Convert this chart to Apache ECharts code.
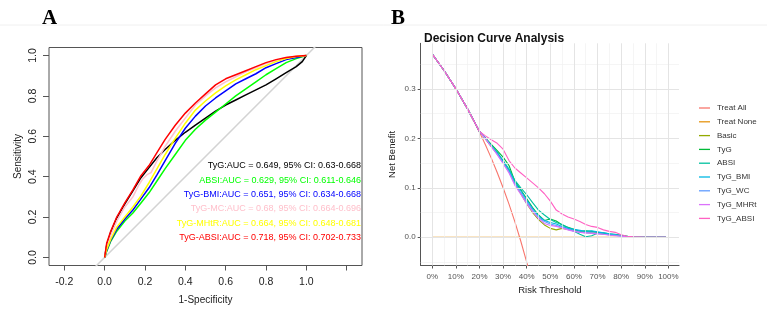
<!DOCTYPE html>
<html><head><meta charset="utf-8">
<script src="https://cdn.jsdelivr.net/npm/echarts@6/dist/echarts.min.js"></script>
<style>html,body{margin:0;padding:0;background:#fff}#c{width:767px;height:313px}</style>
</head><body><div id="c"></div>
<script>
// ---------- Panel A : ROC curves ----------
const rocNames  = ['TyG','ABSI','TyG-BMI','TyG-MC','TyG-MHtR','TyG-ABSI'];
const rocAUC    = ['0.649','0.629','0.651','0.68','0.664','0.718'];
const rocCI     = ['0.63-0.668','0.611-0.646','0.634-0.668','0.664-0.696','0.648-0.681','0.702-0.733'];
const rocColors = ['#000000','#00ff00','#0000ff','#ffc0cb','#ffff00','#ff0000'];
const rocXTicks = [-0.2,0,0.2,0.4,0.6,0.8,1.0,1.2];
const rocXLabels = [-0.2,0,0.2,0.4,0.6,0.8,1.0];
const rocYTicks = [0,0.2,0.4,0.6,0.8,1.0];
// [1-specificity, sensitivity]
const rocTyG = [[0,0],[0.01,0.06],[0.03,0.125],[0.06,0.195],[0.1,0.265],[0.14,0.33],[0.18,0.395],[0.22,0.445],[0.26,0.495],[0.3,0.535],[0.35,0.58],[0.4,0.62],[0.45,0.655],[0.5,0.69],[0.55,0.725],[0.6,0.755],[0.65,0.78],[0.7,0.805],[0.75,0.83],[0.8,0.855],[0.85,0.885],[0.9,0.915],[0.95,0.945],[0.98,0.97],[1,1]];
const rocABSI = [[0,0],[0.01,0.03],[0.03,0.08],[0.06,0.13],[0.1,0.18],[0.14,0.22],[0.18,0.27],[0.22,0.32],[0.26,0.38],[0.3,0.44],[0.35,0.51],[0.4,0.58],[0.45,0.635],[0.5,0.68],[0.55,0.72],[0.6,0.76],[0.65,0.8],[0.7,0.835],[0.75,0.87],[0.8,0.905],[0.85,0.935],[0.9,0.965],[0.95,0.985],[1,1]];
const rocTyGBMI = [[0,0],[0.01,0.035],[0.03,0.085],[0.06,0.14],[0.1,0.19],[0.14,0.235],[0.18,0.29],[0.22,0.345],[0.26,0.41],[0.3,0.48],[0.35,0.565],[0.4,0.64],[0.45,0.7],[0.5,0.75],[0.55,0.79],[0.6,0.825],[0.65,0.86],[0.7,0.885],[0.75,0.91],[0.8,0.94],[0.85,0.96],[0.9,0.98],[0.95,0.99],[1,1]];
const rocTyGMC = [[0,0],[0.01,0.05],[0.03,0.11],[0.06,0.18],[0.1,0.25],[0.14,0.3],[0.17,0.36],[0.19,0.39],[0.21,0.41],[0.23,0.42],[0.26,0.48],[0.3,0.55],[0.35,0.625],[0.4,0.69],[0.45,0.755],[0.5,0.8],[0.55,0.84],[0.6,0.87],[0.65,0.895],[0.7,0.92],[0.75,0.94],[0.8,0.96],[0.85,0.975],[0.9,0.99],[0.95,0.997],[1,1]];
const rocTyGMHtR = [[0,0],[0.01,0.04],[0.03,0.09],[0.06,0.15],[0.1,0.2],[0.14,0.25],[0.18,0.305],[0.22,0.37],[0.26,0.44],[0.3,0.51],[0.35,0.59],[0.4,0.665],[0.45,0.73],[0.5,0.775],[0.55,0.815],[0.6,0.85],[0.65,0.88],[0.7,0.905],[0.75,0.93],[0.8,0.95],[0.85,0.97],[0.9,0.985],[0.95,0.995],[1,1]];
const rocTyGABSI = [[0,0],[0.01,0.07],[0.03,0.13],[0.06,0.2],[0.1,0.27],[0.14,0.335],[0.18,0.405],[0.22,0.455],[0.26,0.52],[0.3,0.585],[0.35,0.655],[0.4,0.715],[0.45,0.765],[0.5,0.81],[0.55,0.855],[0.6,0.885],[0.65,0.905],[0.7,0.925],[0.75,0.945],[0.8,0.965],[0.85,0.98],[0.9,0.99],[0.95,0.997],[1,1]];
const rocData = [rocTyG, rocABSI, rocTyGBMI, rocTyGMC, rocTyGMHtR, rocTyGABSI];
const rocDiag = [[-0.1,-0.1],[1.1,1.1]];

// ---------- Panel B : Decision curves ----------
const dcaNames  = ['Treat All','Treat None','Basic','TyG','ABSI','TyG_BMI','TyG_WC','TyG_MHRt','TyG_ABSI'];
const dcaColors = ['#F8766D','#E69512','#93AA00','#00BA38','#00C19F','#00B9E3','#619CFF','#DB72FB','#FF61C3'];
const dcaXTicks = [0,0.1,0.2,0.3,0.4,0.5,0.6,0.7,0.8,0.9,1.0];
const dcaYTicks = [0,0.1,0.2,0.3];
const dcaXMinor = [0.05,0.15,0.25,0.35,0.45,0.55,0.65,0.75,0.85,0.95];
const dcaYMinor = [-0.05,0.05,0.15,0.25,0.35];
const treatAllX = [0,0.05,0.1,0.15,0.2,0.225,0.25,0.275,0.3,0.325,0.35,0.375,0.4,0.42];
const treatAllY = [0.37,0.337,0.30,0.259,0.2125,0.187,0.16,0.131,0.10,0.067,0.031,-0.008,-0.05,-0.086];
const treatNoneX = [0,0.99];
const treatNoneY = [0,0];
const dcaX = [0,0.05,0.1,0.15,0.2,0.225,0.25,0.275,0.3,0.325,0.35,0.375,0.4,0.425,0.45,0.475,0.5,0.525,0.55,0.575,0.6,0.625,0.65,0.675,0.7,0.725,0.75,0.775,0.8,0.825,0.85,0.9,0.95,0.99];
const dcaHead = [0.37,0.337,0.30,0.259,0.214];
const dcaTail = [0,0,0];
const nbBasic   = [0.199,0.183,0.169,0.152,0.135,0.108,0.088,0.068,0.05,0.036,0.025,0.018,0.015,0.018,0.016,0.013,0.011,0.01,0.009,0.008,0.007,0.005,0.004,0.003,0.001,0];
const nbTyG     = [0.201,0.188,0.175,0.162,0.145,0.113,0.096,0.078,0.06,0.045,0.034,0.037,0.033,0.025,0.02,0.016,0.012,0.013,0.012,0.01,0.008,0.006,0.005,0.004,0.002,0];
const nbABSI    = [0.2,0.186,0.172,0.155,0.138,0.115,0.1,0.086,0.07,0.055,0.045,0.036,0.03,0.026,0.02,0.012,0.006,0.001,0.003,0.008,0.009,0.007,0.006,0.004,0.002,0];
const nbTyGBMI  = [0.2,0.185,0.17,0.154,0.136,0.11,0.094,0.075,0.058,0.043,0.034,0.03,0.027,0.022,0.018,0.016,0.014,0.012,0.013,0.011,0.009,0.007,0.005,0.003,0.001,0];
const nbTyGWC   = [0.2,0.184,0.168,0.15,0.132,0.107,0.09,0.072,0.055,0.04,0.032,0.027,0.024,0.02,0.016,0.013,0.011,0.009,0.009,0.008,0.006,0.005,0.004,0.002,0.001,0];
const nbTyGMHRt = [0.199,0.183,0.167,0.149,0.13,0.105,0.087,0.068,0.052,0.038,0.028,0.024,0.022,0.019,0.015,0.012,0.01,0.009,0.008,0.007,0.006,0.004,0.003,0.002,0.001,0];
const nbTyGABSI = [0.205,0.197,0.19,0.178,0.155,0.14,0.13,0.12,0.11,0.1,0.088,0.073,0.055,0.047,0.041,0.037,0.032,0.026,0.022,0.02,0.015,0.012,0.01,0.005,0.002,0.001];
const dcaModels = [nbBasic, nbTyG, nbABSI, nbTyGBMI, nbTyGWC, nbTyGMHRt, nbTyGABSI];

const FONT = 'Liberation Sans, Arial, sans-serif';
const chart = echarts.init(document.getElementById('c'), null, {renderer:'canvas'});
const zip = (xs, ys) => xs.map((x,i)=>[x, ys[i]]);

const series = [];
// Panel A
series.push({type:'line', xAxisIndex:0, yAxisIndex:0, data:rocDiag, symbol:'none', silent:true,
  lineStyle:{color:'#d3d3d3', width:1.5}, clip:true, z:1});
rocData.forEach((d,i)=>series.push({type:'line', name:'A_'+rocNames[i], xAxisIndex:0, yAxisIndex:0, data:d,
  symbol:'none', lineStyle:{color:rocColors[i], width:1.5}, clip:true, z:2}));
// Panel B grid lines (ggplot style)
const mk = [];
dcaYMinor.forEach(v=>mk.push({yAxis:v, lineStyle:{color:'#f1f1f1', width:0.7, type:'solid'}}));
dcaXMinor.forEach(v=>mk.push({xAxis:v, lineStyle:{color:'#f1f1f1', width:0.7, type:'solid'}}));
dcaYTicks.forEach(v=>mk.push({yAxis:v, lineStyle:{color:'#e4e4e4', width:1, type:'solid'}}));
dcaXTicks.forEach(v=>mk.push({xAxis:v, lineStyle:{color:'#e4e4e4', width:1, type:'solid'}}));
series.push({type:'line', xAxisIndex:1, yAxisIndex:1, data:[[0,0]], symbol:'none', silent:true,
  lineStyle:{opacity:0}, z:0,
  markLine:{silent:true, symbol:['none','none'], label:{show:false}, animation:false, data:mk}});
series.push({type:'line', name:'Treat All', xAxisIndex:1, yAxisIndex:1, data:zip(treatAllX,treatAllY), symbol:'none',
  lineStyle:{color:dcaColors[0], width:1.1}, itemStyle:{color:dcaColors[0]}, clip:true, z:3});
series.push({type:'line', name:'Treat None', xAxisIndex:1, yAxisIndex:1, data:zip(treatNoneX,treatNoneY), symbol:'none',
  lineStyle:{color:dcaColors[1], width:1.2}, itemStyle:{color:dcaColors[1]}, clip:true, z:3});
dcaModels.forEach((m,i)=>{
  const ys = dcaHead.concat(m, dcaTail);
  series.push({type:'line', name:dcaNames[i+2], xAxisIndex:1, yAxisIndex:1, data:zip(dcaX, ys), symbol:'none',
    lineStyle:{color:dcaColors[i+2], width:1.1}, itemStyle:{color:dcaColors[i+2]}, clip:true, z:3});
});

const graphics = [
  {type:'line', shape:{x1:0,y1:25,x2:767,y2:25}, style:{stroke:'#f0f0f0', lineWidth:1}, silent:true}
];
rocNames.forEach((n,i)=>graphics.push({type:'text', x:361, y:165.7 + i*14.33,
  style:{text:n+':AUC = '+rocAUC[i]+', 95% CI: '+rocCI[i], fill:rocColors[i], font:'9px '+FONT,
  textAlign:'right', textVerticalAlign:'middle'}}));

chart.setOption({
  animation:false,
  backgroundColor:'#fff',
  title:[
    {text:'A', left:37, top:3, textStyle:{fontFamily:'Liberation Serif', fontWeight:'bold', fontSize:21, color:'#000'}},
    {text:'B', left:386, top:3, textStyle:{fontFamily:'Liberation Serif', fontWeight:'bold', fontSize:21, color:'#000'}},
    {text:'Decision Curve Analysis', left:419, top:28, textStyle:{fontFamily:FONT, fontWeight:'bold', fontSize:12, color:'#111'}}
  ],
  grid:[
    {left:49, top:47.5, width:313, height:218, show:true, borderColor:'#555', borderWidth:1, backgroundColor:'transparent'},
    {left:420.7, top:43.3, width:258.3, height:222.2}
  ],
  xAxis:[
    {gridIndex:0, type:'value', min:-0.276, max:1.276, splitLine:{show:false}, axisLine:{show:false, onZero:false},
     axisTick:{show:true, customValues:rocXTicks, length:5, lineStyle:{color:'#555'}},
     axisLabel:{customValues:rocXLabels, formatter:v=>v.toFixed(1), fontFamily:FONT, fontSize:10.5, color:'#222', margin:11},
     name:'1-Specificity', nameLocation:'middle', nameGap:30, nameTextStyle:{fontFamily:FONT, fontSize:10, color:'#222'}},
    {gridIndex:1, type:'value', min:-0.049, max:1.045, splitLine:{show:false},
     axisLine:{show:true, onZero:false, lineStyle:{color:'#555', width:1}},
     axisTick:{show:true, customValues:dcaXTicks, length:3, lineStyle:{color:'#555'}},
     axisLabel:{customValues:dcaXTicks, formatter:v=>Math.round(v*100)+'%', fontFamily:FONT, fontSize:8, color:'#555', margin:7},
     name:'Risk Threshold', nameLocation:'middle', nameGap:18, nameTextStyle:{fontFamily:FONT, fontSize:9.5, color:'#222'}}
  ],
  yAxis:[
    {gridIndex:0, type:'value', min:-0.04, max:1.04, splitLine:{show:false}, axisLine:{show:false, onZero:false},
     axisTick:{show:true, customValues:rocYTicks, length:6, lineStyle:{color:'#555'}},
     axisLabel:{customValues:rocYTicks, rotate:90, formatter:v=>v.toFixed(1), fontFamily:FONT, fontSize:10.5, color:'#222', margin:10},
     name:'Sensitivity', nameLocation:'middle', nameGap:26, nameTextStyle:{fontFamily:FONT, fontSize:10, color:'#222'}},
    {gridIndex:1, type:'value', min:-0.057, max:0.392, splitLine:{show:false},
     axisLine:{show:true, onZero:false, lineStyle:{color:'#555', width:1}},
     axisTick:{show:true, customValues:dcaYTicks, length:3, lineStyle:{color:'#555'}},
     axisLabel:{customValues:dcaYTicks, formatter:v=>v.toFixed(1), fontFamily:FONT, fontSize:8, color:'#555', margin:5},
     name:'Net Benefit', nameLocation:'middle', nameGap:23, nameTextStyle:{fontFamily:FONT, fontSize:9.5, color:'#222'}}
  ],
  legend:[{
    data:dcaNames, orient:'vertical', left:694, top:98, itemWidth:11, itemHeight:1.3, itemGap:3.8, icon:'rect',
    textStyle:{fontFamily:FONT, fontSize:8, color:'#333', lineHeight:10, padding:[0,0,0,2]},
    selectedMode:false
  }],
  graphic:graphics,
  series:series
});
</script></body></html>
